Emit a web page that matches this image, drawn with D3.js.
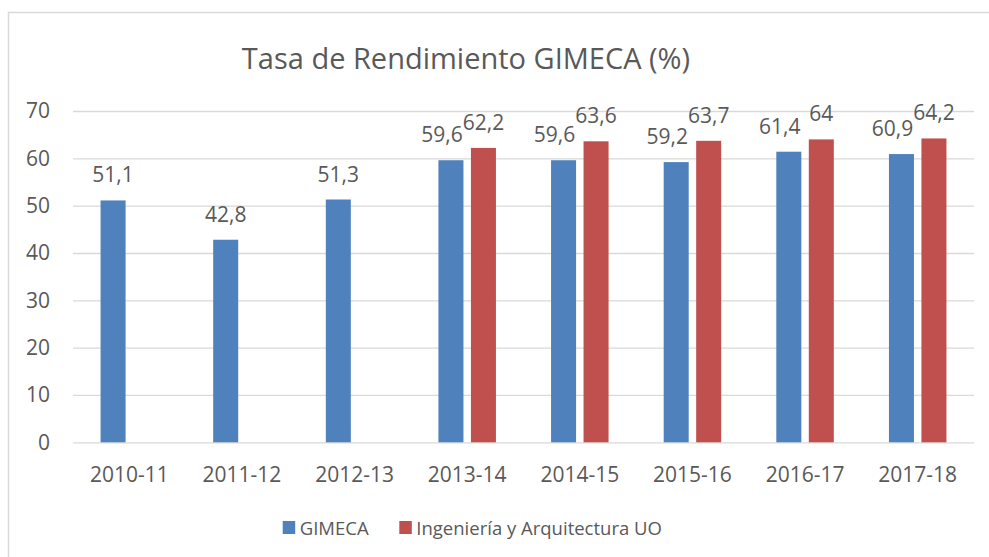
<!DOCTYPE html>
<html>
<head>
<meta charset="utf-8">
<script src="https://cdn.jsdelivr.net/npm/d3@7"></script>
<style>
  body { margin: 0; background: #fff; }
  text { font-family: "Open Sans", sans-serif; fill: #595959; }
</style>
</head>
<body>
<svg id="chart" width="989" height="557"></svg>
<script>
const categories = ["2010-11", "2011-12", "2012-13", "2013-14", "2014-15", "2015-16", "2016-17", "2017-18"];
const gimeca = [51.1, 42.8, 51.3, 59.6, 59.6, 59.2, 61.4, 60.9];
const ingArq = [null, null, null, 62.2, 63.6, 63.7, 64, 64.2];
const seriesNames = ["GIMECA", "Ingeniería y Arquitectura UO"];
const yTicks = [0, 10, 20, 30, 40, 50, 60, 70];

const colors = ["#4f81bd", "#c0504d"];
const plot = { left: 73, right: 974, top: 111, bottom: 442.3 };

let svg = d3.select("#chart");

// chart area border (cropped on the right and bottom)
svg.append("rect")
  .attr("x", 8.5).attr("y", 12.5)
  .attr("width", 1100).attr("height", 700)
  .attr("fill", "none")
  .attr("stroke", "#d9d9d9")
  .attr("stroke-width", 1.5);

svg.append("text")
  .attr("x", 466).attr("y", 69)
  .attr("text-anchor", "middle")
  .style("font-size", "29px")
  .text("Tasa de Rendimiento GIMECA (%)");

let x = d3.scaleBand().domain(categories).range([plot.left, plot.right]).padding(0);
let y = d3.scaleLinear().domain([0, 70]).range([plot.bottom, plot.top]);
// position of the two series inside one category
let inner = d3.scaleBand().domain([0, 1])
  .range([-28.75, 28.75]).paddingInner(0.23).paddingOuter(0);

// grid + y labels
let yAxis = svg.append("g")
  .attr("transform", `translate(${plot.left},0)`)
  .call(d3.axisLeft(y).tickValues(yTicks)
    .tickSizeInner(-(plot.right - plot.left)).tickSizeOuter(0).tickPadding(23));
yAxis.select(".domain").remove();
yAxis.selectAll("line").attr("stroke", "#d9d9d9").attr("stroke-width", 1.3);
yAxis.selectAll("text").style("font-size", "21px").attr("fill", "#595959");

// x labels
let xAxis = svg.append("g")
  .attr("transform", `translate(0,${plot.bottom})`)
  .call(d3.axisBottom(x).tickSize(0).tickPadding(24.5));
xAxis.select(".domain").remove();
xAxis.selectAll("text").style("font-size", "21px").attr("fill", "#595959");

const fmt = (v) => String(v).replace(".", ",");

let rows = [];
categories.forEach((c, i) => {
  [gimeca[i], ingArq[i]].forEach((v, s) => {
    if (v != null) rows.push({ cat: c, s: s, v: v, pair: ingArq[i] != null });
  });
});

let barX = (d) => x(d.cat) + x.bandwidth() / 2 + inner(d.s);

svg.append("g").selectAll("rect")
  .data(rows)
  .enter().append("rect")
  .attr("x", barX)
  .attr("y", (d) => y(d.v))
  .attr("width", inner.bandwidth())
  .attr("height", (d) => y(0) - y(d.v))
  .attr("fill", (d) => colors[d.s]);

// data labels (blue ones nudged left when a red bar sits next to them)
svg.append("g").selectAll("text")
  .data(rows)
  .enter().append("text")
  .attr("x", (d) => barX(d) + inner.bandwidth() / 2 - (d.s == 0 && d.pair ? 9 : 0))
  .attr("y", (d) => y(d.v) - 18)
  .attr("text-anchor", "middle")
  .style("font-size", "21px")
  .text((d) => fmt(d.v));

// legend
let legendX = [282.7, 399.3];
let legend = svg.append("g").selectAll("g")
  .data(seriesNames)
  .enter().append("g")
  .attr("transform", (d, i) => `translate(${legendX[i]},521)`);
legend.append("rect")
  .attr("width", 12.5).attr("height", 13)
  .attr("fill", (d, i) => colors[i]);
legend.append("text")
  .attr("x", 17).attr("y", 13.5)
  .style("font-size", "18.5px")
  .text((d) => d);
</script>
</body>
</html>
